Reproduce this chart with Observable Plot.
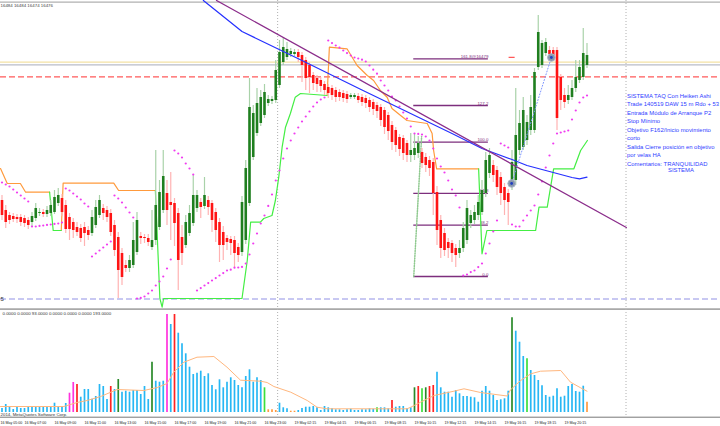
<!DOCTYPE html>
<html><head><meta charset="utf-8">
<script src="https://cdn.jsdelivr.net/npm/d3@7"></script>
<script src="https://cdn.jsdelivr.net/npm/@observablehq/plot@0.6"></script>
<style>
html,body{margin:0;padding:0;background:#fff;}
#chart{width:720px;height:426px;overflow:hidden;position:relative;background:#fff;}
#chart svg{display:block;overflow:hidden;}
</style></head><body><div id="chart"></div>
<script>
// ---------------- DATA (M15 Heiken Ashi bars, DJ, 16-19 May 2014) ----------------
const openP = [16408,16403,16400.5,16400,16399.5,16399.5,16399,16398,16397,16399,
16401.5,16402,16401,16401.5,16402,16406.5,16409,16405.5,16399.5,16397,
16394.5,16394,16394.5,16393,16391.5,16395.5,16400.5,16404,16403,16401.5,
16395.5,16389.5,16381.5,16375.5,16374,16375.5,16382,16390,16389.5,16389,
16384.5,16388,16394.5,16403,16411.5,16407,16406.5,16401.5,16389.5,16385.5,
16391.5,16396.5,16404,16407,16405,16408,16406.5,16402,16397,16392,
16389,16388.5,16388,16384.5,16382,16388,16406.5,16429.5,16441.5,16446.5,
16450.5,16456.5,16457.5,16458,16465.5,16477,16479.5,16481,16481,16482,
16480.5,16478,16475.5,16470.5,16469,16468,16466,16464.5,16464,16463,
16462,16461.5,16461,16459.5,16459.5,16460,16459.5,16459,16458,16457,
16455.5,16454.5,16453,16450.5,16445.5,16443,16439.5,16439,16436.5,16430.5,
16430.5,16431.5,16432,16429.5,16428,16427,16412,16398,16391.5,16387,
16386.5,16384,16381.5,16384,16388,16396.5,16398,16400.5,16402,16411.5,
16421.5,16425.5,16423,16419.5,16414.5,16411.5,16414.5,16418,16433,16434.5,
16438,16443,16443,16474.5,16475.5,16481.5,16483,16483,16483,16469.5,
16460.5,16458,16459.5,16464,16468,16469.5,16475.5];
const closeP = [16400.5,16397,16398,16398.5,16398.5,16397,16396.5,16395.5,16400,16404,
16402,16401,16403,16405.5,16409.5,16410.5,16402,16393.5,16393.5,16393,
16392,16389,16391.5,16390.5,16399.5,16404.5,16408,16401.5,16399.5,16392,
16383,16373,16369.5,16374,16378,16388,16398,16389,16389,16387,
16388,16405.5,16412,16420,16403,16405.5,16396.5,16378,16381.5,16397,
16401.5,16410.5,16410.5,16404.5,16410.5,16404.5,16398,16393,16385.5,16385.5,
16387,16386.5,16381.5,16380.5,16407,16424,16454.5,16451.5,16456.5,16459.5,
16462,16458.5,16458.5,16473,16482,16484.5,16483.5,16482.5,16482,16479.5,
16475.5,16469,16469.5,16466.5,16466,16465,16463,16461.5,16460.5,16459.5,
16459.5,16459,16458.5,16460.5,16460.5,16458,16457,16456.5,16454.5,16453.5,
16452.5,16448,16444.5,16442.5,16437,16435.5,16433.5,16431.5,16430.5,16433,
16434,16436.5,16426.5,16425.5,16424,16411.5,16393,16384,16383,16384,
16381.5,16380.5,16384,16394,16404,16400.5,16402,16407,16413,16428,
16430.5,16420.5,16414.5,16411.5,16408,16407,16427,16440.5,16446.5,16453,
16447,16454.5,16472,16492,16486.5,16487,16481,16480.5,16449,16458,
16457,16460.5,16464,16469.5,16474.5,16481.5,16480.5];
const highP = [16410.5,16405.5,16402,16401.5,16401,16401,16400.5,16399.5,16402,16406.5,
16404,16403.5,16405,16408,16413,16414,16411,16408,16401.5,16399,
16397,16396,16397,16395,16403,16408,16410.5,16406,16405,16403.5,
16398,16392,16384,16378,16380.5,16397,16402,16392,16391,16391,
16403,16433,16418,16433,16418,16422,16409,16404,16395.5,16400.5,
16405.5,16420.5,16413,16409,16419.5,16410,16408,16404,16399,16395,
16390.5,16390,16390,16386.5,16410,16428,16469,16455.5,16464,16463,
16466,16460.5,16460,16478,16488,16489,16487,16484,16483.5,16483.5,
16482,16479.5,16477,16472,16470.5,16469.5,16467.5,16466,16465.5,16464.5,
16463.5,16463,16462.5,16461.5,16461.5,16461.5,16461,16460.5,16459.5,16458.5,
16457,16456,16454.5,16452,16447.5,16444.5,16441,16440.5,16438,16441.5,
16441,16440,16434,16431.5,16430,16429,16415,16400.5,16394,16389,
16388,16386,16388,16397,16408,16403,16405.5,16410.5,16418,16432,
16434,16428,16425,16422,16416.5,16413.5,16433,16464,16453,16459.5,
16450.5,16460.5,16474,16500.5,16488,16489,16485,16484.5,16484.5,16471,
16464,16465.5,16468,16478,16478,16494,16486.5];
const lowP = [16398,16394,16396,16397,16396.5,16395,16394.5,16393.5,16395,16397.5,
16400,16399.5,16399.5,16400,16401,16405,16400,16391.5,16388,16389,
16390,16387,16385,16388,16390,16394,16399,16398,16397,16390,
16380,16359,16365.5,16372,16372,16374,16380.5,16386,16386.5,16385,
16383,16385.5,16393,16401.5,16395.5,16388,16385,16363,16375.5,16384,
16390,16395,16402,16399,16403.5,16400.5,16392,16387,16377,16378,
16383,16380.5,16374,16377,16380,16386,16405,16428,16440,16445,
16449,16455,16456,16456.5,16464,16475.5,16478,16479.5,16480,16477,
16467,16463,16461.5,16463,16462,16462,16460.5,16459,16458,16457,
16457.5,16457,16456.5,16458.5,16458.5,16456.5,16455,16454,16452,16450.5,
16449,16445,16441,16438,16433,16432,16430,16428,16427,16427,
16428,16429,16424,16422,16420,16400.5,16385.5,16379,16380,16379,
16377,16374.5,16379,16382,16386,16394,16396,16398,16400.5,16409.5,
16419,16417,16410.5,16405.5,16400.5,16395.5,16413,16415.5,16430.5,16433,
16435.5,16440.5,16441.5,16473,16474,16480,16479,16478,16443,16453,
16454,16456,16458,16462,16466.5,16468,16474];
// Parabolic SAR
const sarP = [16417,16416,16415,16413.5,16412,16410.5,16409,16407.5,16395,16395,
16395.3,16395.5,16395.8,16396,16396.3,16396.5,16397,16414,16413,16411.5,
16410,16408.5,16406.5,16405,16380,16381.5,16383,16384.5,16386,16387.5,
16410.5,16409,16407,16404.5,16402,16399.5,16359,16359.3,16360,16361.5,
16363,16365.5,16367.5,16370,16374,16378.5,16433,16431.5,16429.5,16426.5,
16424,16421,16363,16364.2,16365.5,16366.7,16368,16369.2,16370.5,16371.7,
16373,16373.4,16374.4,16374.5,16374.8,16376.5,16381,16386.5,16391.5,16396.5,
16400.5,16405.3,16411,16418,16423,16429,16434,16438,16441.5,16444.5,
16447.5,16450,16452.5,16455,16457,16458.5,16459.5,16488,16486.7,16485.5,
16484.4,16483,16481.7,16480.5,16479.5,16479,16478.4,16477.5,16475.5,16473.4,
16471.4,16468,16465.5,16463,16460,16458,16455,16452,16449,16445,
16441.5,16441.3,16441,16440,16438,16434,16429,16425,16422,16418,
16413.5,16410.5,16404.5,16370.5,16371,16372.2,16373,16374.7,16376.5,16381.5,
16386.5,16392.5,16398,16436.5,16435.5,16434.5,16396,16395,16395,16398,
16400.5,16403,16405.5,16411,16417.5,16424.5,16430.5,16436.5,16441.5,16442,
16442.5,16443,16448.5,16453,16457,16459.5,16460.5];
// Volume (ticks) and bar type code: b normal, m churn, r climax down, g climax up, l low-vol up, o low
const volume = [40,80,53,30,50,40,40,50,60,53,
50,60,50,53,93,50,50,90,193,300,
280,153,230,230,133,160,280,260,130,260,
230,330,203,213,203,220,220,180,260,130,
503,313,303,313,980,880,980,793,687,587,
453,380,393,413,360,387,270,227,327,247,
303,347,320,270,247,360,427,303,347,320,
247,27,27,20,93,47,37,13,13,20,
40,53,53,60,47,20,60,47,37,27,
27,20,27,33,20,20,27,27,37,33,
47,47,47,37,120,53,60,60,37,47,
247,260,237,247,260,270,403,247,203,203,
153,220,187,160,160,153,147,103,213,260,
213,170,120,127,137,213,947,813,703,560,
537,420,370,320,267,170,153,163,237,153,
163,260,280,210,203,263,103];
const volType = ("bbbbbbbbbb" + "bbbbbbbbmm" + "rbbbbbbbbr" + "bgbbbbbbbb" + "gbbbmbrbbb" +
  "bbbbbbbbbb" + "bbbbbbbbbb" + "looobbboob" + "bbbbbbbbbb" + "bbbbbbbbbb" +
  "lbbbrbbbbb" + "grlgrrbbbb" + "bbbbbbbbbb" + "bbbbbbgbbb" + "lbbbbbbbbb" + "bbbbbbo").split("");
// volume moving average, read as knots [bar, value]
const volMA = [[-0.4,60],[16.5,60],[20,100],[22.7,120],[26.3,160],[30.7,230],[37.8,220],[41.4,250],[44,290],
 [45.8,403],[48.5,503],[52,553],[56.5,560],[60,453],[63.6,323],[69,313],[70.7,300],[72.5,260],[77,203],
 [81.4,120],[84,53],[86.7,37],[108,37],[109,53],[111.6,103],[115.2,170],[120.5,213],[123.2,237],
 [127.6,200],[134.7,165],[135.6,227],[138.3,320],[141,387],[143.6,413],[149,420],[151.6,303],[154.3,247],[156,213]];
// trailing stop line (orange = short, green = long), knots [bar, price]
const trailOrange = [
 [[-0.4,16424],[1.4,16416.5],[4.9,16416.5],[6.3,16412.15],[12.7,16412.15]],
 [[15.8,16393],[16.3,16416.65],[29.8,16416.65],[31.1,16413],[40.9,16413]],
 [[86.7,16460.5],[87.3,16484.65],[92,16483.85],[94.7,16475.5],[97.4,16470.5],[99.1,16468],[100.9,16463],
  [102.7,16459.65],[104,16454],[106.3,16450.5],[108,16448],[113.4,16446.5],[114.7,16441.5],[115.1,16433],
  [115.9,16423.85],[127.1,16423.85]]];
const trailGreen = [
 [[12.7,16412.15],[13.65,16393],[15.8,16393]],
 [[40.9,16413],[42.1,16359],[42.7,16354.65],[43.1,16359],[64,16359],[65.4,16378],[66.3,16397.15],[68.9,16397.15],
  [69.8,16399],[72,16400.5],[72.9,16408],[73.8,16419.65],[74.7,16434.65],[75.6,16444.65],[76.9,16451.5],
  [78.2,16459.65],[79.6,16461.5],[86.7,16460.5]],
 [[127.1,16423.85],[128,16381.35],[129.3,16393],[142.3,16393],[143.2,16404.65],[145.4,16404.65],
  [147.1,16423.85],[152.5,16423.85],[154.3,16433],[156.1,16438]]];
// moving average (blue), knots [bar, price]
const maLine = [[53.7,16508],[64,16492.5],[80,16478],[96,16463.25],[112,16448.75],[120,16441.5],[128,16434],
 [136,16428.5],[140,16425.5],[144,16423.5],[148,16421.5],[152,16419.5],[154,16418.85],[156,16419.65]];
// trend line (purple)
const trendLine = [[57.2,16508],[166.5,16394.5]];
// horizontal price lines
const bidPrice = 16477.15, askPrice = 16475.85, stopPrice = 16469.85, lowPrice = 16358.75;
// Fibonacci
const fibFrom = 109.8, fibTo = 129.7;
const fibPrice = [16478.8, 16455.5, 16437.2, 16411.6, 16395.7, 16370];
const fibLabel = ["161.8@16479", "127.2", "100.0", "61.8", "38.2", "0.0"];
const fibTrend = [[109.8,16370],[111.9,16440]];
// trade
const entry = {i: 135.9, p: 16416.5}, exit = {i: 146.5, p: 16479.5};
const tpMark = [[135.2,16479.6],[136.6,16479.6]];
// period separators
const separators = [73.5, 166.4];
// time axis (first label sits at the left edge)
const tickIdx = [-0.4,6,14,22,30,38,46,54,62,70,78,86,94,102,110,118,126,134,142,150];
const tickLabels = ["16 May 05:00","16 May 07:00","16 May 09:00","16 May 11:00","16 May 13:00","16 May 15:00",
 "16 May 17:00","16 May 19:00","16 May 21:00","16 May 23:00","19 May 02:15","19 May 04:15","19 May 06:15",
 "19 May 08:15","19 May 10:15","19 May 12:15","19 May 14:15","19 May 16:15","19 May 18:15","19 May 20:15"];
const ohlcText = "16484 16484 16474 16476";
const volHeader = "0.0000 0.0000 93.0000 0.0000 0.0000 0.0000 193.0000";
const copyright = "2014, MetaQuotes Software Corp.";
const comment = ["SISTEMA TAQ Con Heiken Ashi","Trade 140519 DAW 15 m Rdo + 53","Entrada Módulo de Arranque P2",
 "Stop Mínimo","Objetivo F162/Inicio movimiento","corto","Salida Cierre posición en objetivo","por velas HA",
 "Comentarios: TRANQUILIDAD"];
const commentLast = "SISTEMA";

// ---------------- BUILD ----------------
const xDomain = [-0.4, 191.6];
const priceDomain = [16353, 16508];
const font = "'Liberation Sans', Arial, sans-serif";
const bars = openP.map((o, i) => ({i, o, h: highP[i], l: lowP[i], c: closeP[i], up: closeP[i] >= o}));
const sar = sarP.map((p, i) => ({i, p}));
const vols = volume.map((v, i) => ({i, v, t: volType[i]}));
const volColor = {b: "#27b7f4", m: "#ff33dd", r: "#ff2222", g: "#2a8a2a", l: "#3ddf3d", o: "#ff9a40"};
const flat = (segs) => segs.flatMap((s, k) => s.map(([i, p]) => ({i, p, k})));
const cFont = 5.9, cLine = 8.52;

const main = Plot.plot({
  width: 720, height: 310, margin: 0,
  x: {domain: xDomain, axis: null},
  y: {domain: priceDomain, axis: null},
  color: {type: "identity"},
  style: {fontFamily: font, background: "#fff"},
  marks: [
    Plot.ruleY([priceDomain[1] - 0.8], {stroke: "#9c9c9c", strokeWidth: 1}),
    Plot.ruleY([priceDomain[0] + 0.6], {stroke: "#a9a9a9", strokeWidth: 2}),
    Plot.ruleX(separators, {stroke: "#b0b0b0", strokeDasharray: "1,2"}),
    Plot.ruleY([bidPrice], {stroke: "#f3e2a4", strokeWidth: 1.2}),
    Plot.ruleY([askPrice], {stroke: "#b9bcc8", strokeWidth: 1.2}),
    Plot.ruleY([stopPrice], {stroke: "#ff5a5a", strokeWidth: 1.2, strokeDasharray: "6,3"}),
    Plot.ruleY([lowPrice], {stroke: "#c8c8f2", strokeWidth: 1.8, strokeDasharray: "6,3"}),
    Plot.ruleY(fibPrice, {x1: fibFrom, x2: fibTo, stroke: "#7d2e7d", strokeWidth: 1.3}),
    Plot.text(fibPrice, {x: fibTo, y: d => d, text: (d, k) => fibLabel[k], textAnchor: "end", lineAnchor: "bottom", dy: -1, fontSize: 4.4, fill: "#7d2e7d"}),
    Plot.line(fibTrend, {x: "0", y: "1", stroke: "#8fc98f", strokeDasharray: "1,1.5"}),
    Plot.line(flat(trailOrange), {x: "i", y: "p", z: "k", stroke: "#ff9a3c", strokeWidth: 1.2}),
    Plot.line(flat(trailGreen), {x: "i", y: "p", z: "k", stroke: "#44ee44", strokeWidth: 1.2}),
    Plot.ruleX(bars, {x: "i", y1: "l", y2: "h", stroke: d => d.up ? "#a9d2a9" : "#ffb3b3", strokeWidth: 1.2}),
    Plot.ruleX(bars, {x: "i", y1: "o", y2: "c", stroke: d => d.up ? "#1f7f1f" : "#ff1414", strokeWidth: 2.6}),
    Plot.dot(sar, {x: "i", y: "p", r: 1.1, fill: "#f03cf0"}),
    Plot.line(maLine, {x: "0", y: "1", stroke: "#2530ff", strokeWidth: 1.2}),
    Plot.line(trendLine, {x: "0", y: "1", stroke: "#8b2d8b", strokeWidth: 1.3}),
    Plot.line([entry, exit], {x: "i", y: "p", stroke: "#7d95ff", strokeWidth: 1, strokeDasharray: "1,2"}),
    Plot.line(tpMark, {x: "0", y: "1", stroke: "#ff3030", strokeWidth: 1}),
    Plot.dot([entry, exit], {x: "i", y: "p", r: 3.8, fill: "#8797ad", stroke: "#aab5c4", strokeWidth: 1}),
    Plot.dot([entry, exit], {x: "i", y: "p", r: 1.4, fill: "#2040c0"}),
    Plot.text([ohlcText], {frameAnchor: "top-left", textAnchor: "start", lineAnchor: "top", dx: 0, dy: 3, fontSize: 4.4, fill: "#444"}),
    Plot.text(["5"], {x: () => xDomain[0], y: () => lowPrice, textAnchor: "start", fontSize: 6, fill: "#333"}),
    Plot.text([comment.join("\n")], {x: () => separators[1], frameAnchor: "top", textAnchor: "start", lineAnchor: "top",
      dx: 1, dy: 91, lineHeight: cLine / cFont, fontSize: cFont, fill: "#2f40ff"}),
    Plot.text([commentLast], {x: () => separators[1], frameAnchor: "top", textAnchor: "start", lineAnchor: "top",
      dx: 42, dy: 91 + 9 * cLine, fontSize: cFont, fill: "#2f40ff"})
  ]
});

const vol = Plot.plot({
  width: 720, height: 116, marginTop: 2, marginBottom: 14, marginLeft: 0, marginRight: 0,
  x: {domain: xDomain, axis: null},
  y: {domain: [0, 1000], axis: null},
  color: {type: "identity"},
  style: {fontFamily: font, background: "#fff"},
  marks: [
    Plot.ruleX(separators, {y1: 1000, y2: -47, stroke: "#b0b0b0", strokeDasharray: "1,2"}),
    Plot.ruleY([-47], {stroke: "#777", strokeWidth: 1}),
    Plot.ruleX(vols, {x: "i", y1: 0, y2: "v", stroke: d => volColor[d.t], strokeWidth: 1.7}),
    Plot.line(volMA, {x: "0", y: "1", stroke: "#ffb77e", strokeWidth: 1}),
    Plot.text([volHeader], {frameAnchor: "top-left", textAnchor: "start", lineAnchor: "top", dx: 2, dy: -1, fontSize: 4.4, fill: "#333"}),
    Plot.text([copyright], {frameAnchor: "bottom-left", textAnchor: "start", lineAnchor: "middle", dy: 2.3, fontSize: 4.4, fill: "#333"}),
    Plot.text(tickIdx, {x: d => d, text: (d, k) => tickLabels[k], frameAnchor: "bottom", textAnchor: "start", lineAnchor: "middle", dy: 10, fontSize: 3.6, fill: "#222"})
  ]
});

document.getElementById("chart").append(main, vol);
</script></body></html>
